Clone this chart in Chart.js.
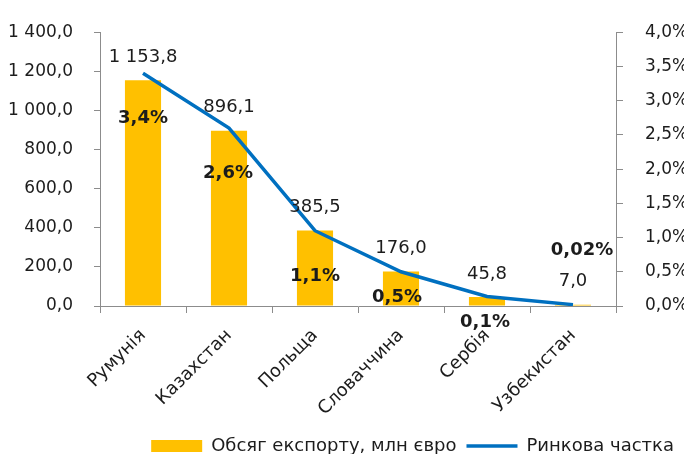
<!DOCTYPE html>
<html>
<head>
<meta charset="utf-8">
<script src="https://cdn.jsdelivr.net/npm/chart.js@4.4.1/dist/chart.umd.min.js"></script>
<style>
    html, body { margin: 0; padding: 0; background: #fff; }
    #wrap { width: 684px; height: 454px; }
</style>
</head>
<body>
<div id="wrap"><canvas id="exportChart"></canvas></div>
<script>
// countries
const countries = ['Румунія', 'Казахстан', 'Польща', 'Словаччина', 'Сербія', 'Узбекистан'];
// export volume, mln EUR
const exportVolume = [1153.8, 896.1, 385.5, 176.0, 45.8, 7.0];
// market share, %
const marketShare = [3.4, 2.6, 1.1, 0.5, 0.14, 0.02];

const FONT = 'DejaVu Sans';
const TEXT = '#1c1c1c';
const AXIS = '#8c8c8c';

function fmtNum(v) {
    const parts = v.toFixed(1).split('.');
    parts[0] = parts[0].replace(/\B(?=(\d{3})+(?!\d))/g, ' ');
    return parts.join(',');
}

function fmtPct(v) {
    const d = v < 0.1 ? 2 : 1;
    return v.toFixed(d).replace('.', ',') + '%';
}

// label offsets for the share line, as placed in the original
const shareLabelShift = [[0, 45], [-1, 45], [0, 46], [-4, 26], [-2, 26], [9, -54]];

const valueLabels = {
    id: 'valueLabels',
    afterDatasetsDraw(chart) {
        const ctx = chart.ctx;
        ctx.save();
        ctx.textAlign = 'center';
        ctx.textBaseline = 'middle';
        ctx.fillStyle = TEXT;

        ctx.font = '18px "' + FONT + '"';
        chart.getDatasetMeta(0).data.forEach((bar, i) => {
            ctx.fillText(fmtNum(exportVolume[i]), bar.x, bar.y - 23);
        });

        ctx.font = 'bold 18px "' + FONT + '"';
        chart.getDatasetMeta(1).data.forEach((pt, i) => {
            const [dx, dy] = shareLabelShift[i];
            ctx.fillText(fmtPct(marketShare[i]), pt.x + dx, pt.y + dy);
        });
        ctx.restore();
    }
};

// pull the legend closer to the bottom edge
const tightLegend = {
    id: 'tightLegend',
    beforeUpdate(chart) {
        const lg = chart.legend;
        if (!lg || lg._tight) return;
        const fit = lg.fit;
        lg.fit = function () {
            fit.call(this);
            this.height -= 11;
        };
        lg._tight = true;
    }
};

Chart.defaults.font.family = FONT;
Chart.defaults.font.size = 18;
Chart.defaults.color = TEXT;

new Chart(document.getElementById('exportChart').getContext('2d'), {
    type: 'bar',
    data: {
        labels: countries,
        datasets: [
            {
                type: 'bar',
                label: 'Обсяг експорту, млн євро',
                data: exportVolume,
                backgroundColor: '#FFC000',
                borderWidth: 0,
                yAxisID: 'yVol',
                categoryPercentage: 1,
                barPercentage: 0.42,
                pointStyle: 'rect',
                order: 1
            },
            {
                type: 'line',
                label: 'Ринкова частка',
                data: marketShare,
                borderColor: '#0070C0',
                backgroundColor: '#0070C0',
                borderWidth: 3.5,
                tension: 0,
                pointRadius: 0,
                pointStyle: 'line',
                yAxisID: 'yShare',
                order: 0
            }
        ]
    },
    options: {
        responsive: true,
        maintainAspectRatio: false,
        animation: false,
        layout: { padding: { top: 27, right: 0, left: 0, bottom: 0 } },
        plugins: {
            tooltip: { enabled: false },
            legend: {
                position: 'bottom',
                align: 'end',
                labels: {
                    usePointStyle: true,
                    pointStyleWidth: 51,
                    boxHeight: 12,
                    padding: 10,
                    color: TEXT,
                    font: { size: 18 },
                    sort: (a, b) => a.datasetIndex - b.datasetIndex
                }
            }
        },
        scales: {
            x: {
                grid: { display: true, drawOnChartArea: false, offset: true, color: AXIS, tickLength: 7 },
                border: { color: AXIS, width: 1 },
                ticks: { maxRotation: 45, minRotation: 45, padding: 12, color: TEXT },
                afterFit(s) { s.height = 121; }
            },
            yVol: {
                position: 'left',
                min: 0,
                max: 1400,
                grid: { drawOnChartArea: false, color: AXIS, tickLength: 6 },
                border: { color: AXIS, width: 1 },
                ticks: { stepSize: 200, padding: 21, color: TEXT, font: { size: 17 }, callback: v => fmtNum(v) },
                afterFit(s) { s.width = 100; }
            },
            yShare: {
                position: 'right',
                min: 0,
                max: 4,
                grid: { drawOnChartArea: false, color: AXIS, tickLength: 7 },
                border: { color: AXIS, width: 1 },
                ticks: { stepSize: 0.5, padding: 22, color: TEXT, font: { size: 17 }, callback: v => v.toFixed(1).replace('.', ',') + '%' },
                afterFit(s) { s.width = 68; }
            }
        }
    },
    plugins: [valueLabels, tightLegend]
});
</script>
</body>
</html>
